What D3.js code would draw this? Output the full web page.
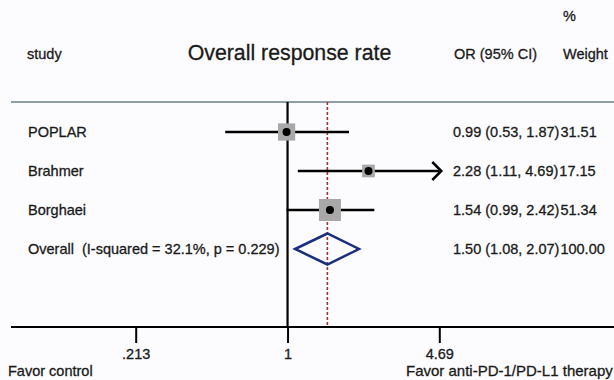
<!DOCTYPE html>
<html>
<head>
<meta charset="utf-8">
<script src="https://cdn.jsdelivr.net/npm/d3@7"></script>
<style>
  html, body { margin: 0; padding: 0; background: #fcfcfe; }
  svg { display: block; }
  text {
    font-family: "Liberation Sans", Arial, sans-serif;
    fill: #1a1a1a;
    stroke: #1a1a1a;
    stroke-width: 0.3px;
    white-space: pre;
  }
</style>
</head>
<body>
<svg id="chart" width="614" height="380"></svg>
<script>
// Study-level odds ratios for overall response rate
const studies = ["POPLAR", "Brahmer", "Borghaei"];
const orValues = [0.99, 2.28, 1.54];
const ciLow = [0.53, 1.11, 0.99];
const ciHigh = [1.87, 4.69, 2.42];
const weights = [31.51, 17.15, 51.34];

// Pooled estimate
const overallLabel = "Overall  (I-squared = 32.1%, p = 0.229)";
const overallOR = 1.50;
const overallLow = 1.08;
const overallHigh = 2.07;
const overallWeight = 100.00;

// Axis ticks
const tickValues = [0.213, 1, 4.69];
const tickLabels = [".213", "1", "4.69"];

const svg = d3.select("#chart");
const W = 614, H = 380;

const x = d3.scaleLog().domain([0.213, 4.69]).range([135.7, 439.3]);
const rowY = d3.scalePoint()
  .domain([...studies, "Overall"])
  .range([132, 249]);

const headerY = 102;
const axisY = 327;
const bodyFont = 14.5;

// Column headings
svg.append("text").attr("x", 27).attr("y", 54).attr("dy", "0.35em")
  .attr("font-size", bodyFont).text("study");
svg.append("text").attr("x", 289.5).attr("y", 53).attr("dy", "0.35em")
  .attr("text-anchor", "middle").attr("font-size", 21.3)
  .text("Overall response rate");
svg.append("text").attr("x", 454).attr("y", 54).attr("dy", "0.35em")
  .attr("font-size", bodyFont).text("OR (95% CI)");
svg.append("text").attr("x", 563).attr("y", 54).attr("dy", "0.35em")
  .attr("font-size", bodyFont).text("Weight");
svg.append("text").attr("x", 563).attr("y", 16).attr("dy", "0.35em")
  .attr("font-size", bodyFont).text("%");

// Rule under the headings
svg.append("line")
  .attr("x1", 11).attr("x2", W).attr("y1", headerY).attr("y2", headerY)
  .attr("stroke", "#8f9ea6").attr("stroke-width", 2);

// Line of no effect
svg.append("line")
  .attr("x1", x(1)).attr("x2", x(1)).attr("y1", headerY).attr("y2", axisY)
  .attr("stroke", "#000").attr("stroke-width", 2.2);

// Pooled estimate reference line
svg.append("line")
  .attr("x1", x(overallOR)).attr("x2", x(overallOR))
  .attr("y1", headerY).attr("y2", axisY)
  .attr("stroke", "#a8302c").attr("stroke-width", 1.6)
  .attr("stroke-dasharray", "3,2");

// Study rows
const rows = studies.map((s, i) => ({
  name: s, or: orValues[i], lo: ciLow[i], hi: ciHigh[i], w: weights[i]
}));
const [dMin, dMax] = x.domain();
const boxScale = d3.scaleSqrt().domain([0, 51.34]).range([0, 22]);

rows.forEach(d => {
  const y = rowY(d.name);
  const clippedHi = Math.min(d.hi, dMax);
  svg.append("line")
    .attr("x1", x(Math.max(d.lo, dMin))).attr("x2", x(clippedHi))
    .attr("y1", y).attr("y2", y)
    .attr("stroke", "#000").attr("stroke-width", 2.5);
  if (d.hi >= dMax) {
    const tip = x(dMax) + 2;
    svg.append("path")
      .attr("d", `M${tip - 9},${y - 9}L${tip},${y}L${tip - 9},${y + 9}`)
      .attr("fill", "none").attr("stroke", "#000").attr("stroke-width", 2.5);
  }
  const s = boxScale(d.w);
  svg.append("rect")
    .attr("x", x(d.or) - s / 2).attr("y", y - s / 2)
    .attr("width", s).attr("height", s)
    .attr("fill", "#a8a8a8");
  svg.append("circle")
    .attr("cx", x(d.or)).attr("cy", y).attr("r", 4).attr("fill", "#000");

  svg.append("text").attr("x", 28).attr("y", y).attr("dy", "0.35em")
    .attr("font-size", bodyFont).text(d.name);
  const t = svg.append("text").attr("x", 453).attr("y", y).attr("dy", "0.35em")
    .attr("font-size", bodyFont);
  t.append("tspan").text(`${d.or.toFixed(2)} (${d.lo.toFixed(2)}, ${d.hi.toFixed(2)})`);
  t.append("tspan").attr("dx", 1).text(d.w.toFixed(2));
});

// Pooled diamond
const yo = rowY("Overall");
const dh = 15.5;
svg.append("path")
  .attr("d", `M${x(overallLow)},${yo}L${x(overallOR)},${yo - dh}L${x(overallHigh)},${yo}L${x(overallOR)},${yo + dh}Z`)
  .attr("fill", "none").attr("stroke", "#1c2f7e").attr("stroke-width", 2.5)
  .attr("stroke-linejoin", "miter");
svg.append("text").attr("x", 28).attr("y", yo).attr("dy", "0.35em")
  .attr("font-size", bodyFont).text(overallLabel);
const to = svg.append("text").attr("x", 453).attr("y", yo).attr("dy", "0.35em")
  .attr("font-size", bodyFont);
to.append("tspan").text(`${overallOR.toFixed(2)} (${overallLow.toFixed(2)}, ${overallHigh.toFixed(2)})`);
to.append("tspan").attr("dx", 1).text(overallWeight.toFixed(2));

// Bottom axis
svg.append("line")
  .attr("x1", 11).attr("x2", W).attr("y1", axisY).attr("y2", axisY)
  .attr("stroke", "#000").attr("stroke-width", 2);

const axis = d3.axisBottom(x)
  .tickValues(tickValues)
  .tickFormat((v, i) => tickLabels[i])
  .tickSize(16)
  .tickPadding(6);
const gAxis = svg.append("g").attr("transform", `translate(0,${axisY})`).call(axis);
gAxis.select(".domain").remove();
gAxis.selectAll(".tick line").attr("stroke", "#000").attr("stroke-width", 2);
gAxis.selectAll(".tick text")
  .attr("font-size", bodyFont)
  .attr("font-family", "'Liberation Sans', Arial, sans-serif")
  .attr("fill", "#1a1a1a");

// Direction captions
svg.append("text").attr("x", 8).attr("y", 376)
  .attr("font-size", bodyFont).text("Favor control");
svg.append("text").attr("x", 406).attr("y", 376)
  .attr("font-size", 15).text("Favor anti-PD-1/PD-L1 therapy");
</script>
</body>
</html>
